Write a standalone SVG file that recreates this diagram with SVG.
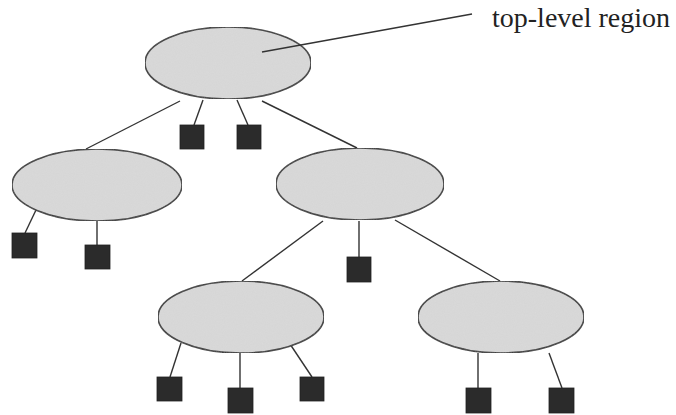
<svg xmlns="http://www.w3.org/2000/svg" width="676" height="415" viewBox="0 0 676 415">
<style>
.region{fill:#dadada;stroke:#333;stroke-width:1.6}
.leaf{fill:#2b2b2b;stroke:#222;stroke-width:0.8}
.edge{stroke:#333;stroke-width:1.4;fill:none}
.label{font-family:"Liberation Serif","Times New Roman",serif;font-size:28px;fill:#222}
</style>
<defs>
<filter id="grain" x="0" y="0" width="1" height="1">
<feTurbulence type="fractalNoise" baseFrequency="0.9" numOctaves="2" seed="3" result="n"/>
<feColorMatrix in="n" type="matrix" values="0 0 0 0 0.5  0 0 0 0 0.5  0 0 0 0 0.5  0 0 0 0.18 0" result="g"/>
<feComposite in="g" in2="SourceGraphic" operator="atop"/>
</filter>
</defs>
<rect width="676" height="415" fill="#fff"/>
<g id="connectors">
<line class="edge" x1="180" y1="101" x2="86" y2="149"/>
<line class="edge" x1="203" y1="100" x2="194" y2="125"/>
<line class="edge" x1="237" y1="100" x2="248" y2="125"/>
<line class="edge" x1="262" y1="101" x2="357" y2="148"/>
<line class="edge" x1="36" y1="210" x2="25" y2="233"/>
<line class="edge" x1="97" y1="221" x2="97" y2="245"/>
<line class="edge" x1="323" y1="221" x2="242" y2="281"/>
<line class="edge" x1="359" y1="221" x2="359" y2="257"/>
<line class="edge" x1="395" y1="220" x2="500" y2="281"/>
<line class="edge" x1="181" y1="343" x2="170" y2="377"/>
<line class="edge" x1="240" y1="353" x2="240" y2="388"/>
<line class="edge" x1="288" y1="341" x2="312" y2="377"/>
<line class="edge" x1="478" y1="353" x2="478" y2="388"/>
<line class="edge" x1="549" y1="353" x2="562" y2="388"/>
</g>
<g id="top"><ellipse class="region" filter="url(#grain)" cx="228" cy="63" rx="83" ry="36"/></g>
<g id="left"><ellipse class="region" filter="url(#grain)" cx="97" cy="185" rx="85" ry="36"/></g>
<g id="right"><ellipse class="region" filter="url(#grain)" cx="360" cy="184" rx="84" ry="36"/></g>
<g id="bottom-left"><ellipse class="region" filter="url(#grain)" cx="241" cy="317" rx="83" ry="36"/></g>
<g id="bottom-right"><ellipse class="region" filter="url(#grain)" cx="501" cy="317" rx="83" ry="36"/></g>
<g id="label">
<line class="edge" x1="262" y1="52" x2="472" y2="14"/>
<text class="label" x="492" y="27">top-level region</text>
</g>
<g id="leaf1"><rect class="leaf" x="180" y="125" width="24" height="24"/></g>
<g id="leaf2"><rect class="leaf" x="237" y="125" width="24" height="24"/></g>
<g id="leaf3"><rect class="leaf" x="12" y="233" width="25" height="25"/></g>
<g id="leaf4"><rect class="leaf" x="85" y="245" width="25" height="24"/></g>
<g id="leaf5"><rect class="leaf" x="347" y="257" width="24" height="25"/></g>
<g id="leaf6"><rect class="leaf" x="157" y="377" width="25" height="24"/></g>
<g id="leaf7"><rect class="leaf" x="228" y="388" width="25" height="25"/></g>
<g id="leaf8"><rect class="leaf" x="300" y="377" width="24" height="24"/></g>
<g id="leaf9"><rect class="leaf" x="466" y="388" width="25" height="25"/></g>
<g id="leaf10"><rect class="leaf" x="549" y="388" width="25" height="25"/></g>
</svg>
